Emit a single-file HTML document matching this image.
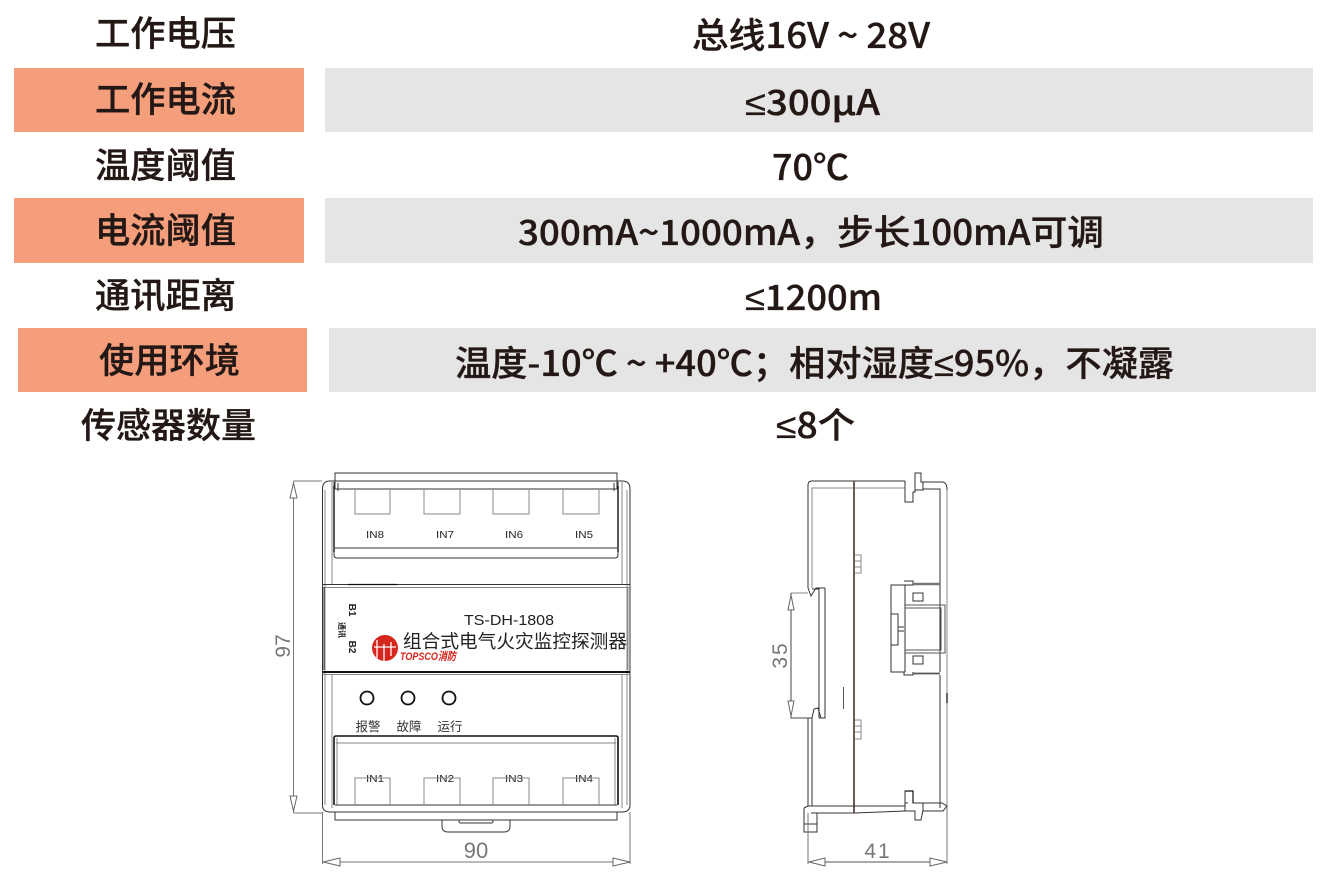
<!DOCTYPE html>
<html><head><meta charset="utf-8">
<style>
html,body{margin:0;padding:0;background:#fff;width:1333px;height:885px;overflow:hidden}
svg{display:block}
.t{font-family:"Noto Sans CJK SC","Liberation Sans",sans-serif;font-size:35px;font-weight:500;fill:#231815;stroke:#231815;stroke-width:.35px}
.le{font-family:"Liberation Sans",sans-serif}
.m{font-family:"Liberation Sans","Noto Sans CJK SC",sans-serif;fill:#333}
.d{font-family:"Liberation Sans",sans-serif;fill:#777}
.l{fill:none;stroke:#333;stroke-width:1}
.g{fill:none;stroke:#888;stroke-width:1}
.k{fill:none;stroke:#111;stroke-width:2}
.a{fill:#fff;stroke:#666;stroke-width:1}
</style></head><body>
<svg width="1333" height="885" viewBox="0 0 1333 885" xmlns="http://www.w3.org/2000/svg">
<rect width="1333" height="885" fill="#fff"/>
<rect x="14" y="68" width="290" height="64" fill="#f49e7b"/>
<rect x="325" y="68" width="988" height="64" fill="#e6e5e5"/>
<rect x="14" y="198" width="290" height="65" fill="#f49e7b"/>
<rect x="325" y="198" width="988" height="65" fill="#e6e5e5"/>
<rect x="18" y="328" width="289" height="64" fill="#f49e7b"/>
<rect x="329" y="328" width="987" height="64" fill="#e6e5e5"/>

<g class="t">
<text x="95" y="46" textLength="141" lengthAdjust="spacingAndGlyphs">工作电压</text>
<text x="95" y="112" textLength="141" lengthAdjust="spacingAndGlyphs">工作电流</text>
<text x="95" y="178" textLength="141" lengthAdjust="spacingAndGlyphs">温度阈值</text>
<text x="95" y="243" textLength="141" lengthAdjust="spacingAndGlyphs">电流阈值</text>
<text x="95" y="308" textLength="141" lengthAdjust="spacingAndGlyphs">通讯距离</text>
<text x="99" y="373" textLength="141" lengthAdjust="spacingAndGlyphs">使用环境</text>
<text x="81" y="438" textLength="175" lengthAdjust="spacingAndGlyphs">传感器数量</text>
<text x="692" y="48" textLength="238" lengthAdjust="spacingAndGlyphs">总线16V ~ 28V</text>
<text x="745" y="115" textLength="135" lengthAdjust="spacingAndGlyphs"><tspan class="le">≤</tspan>300μA</text>
<text x="772" y="180" textLength="77" lengthAdjust="spacingAndGlyphs">70℃</text>
<text x="518" y="245" textLength="586" lengthAdjust="spacingAndGlyphs">300mA~1000mA，步长100mA可调</text>
<text x="745" y="310" textLength="137" lengthAdjust="spacingAndGlyphs"><tspan class="le">≤</tspan>1200m</text>
<text x="455" y="376" textLength="719" lengthAdjust="spacingAndGlyphs">温度-10℃ ~ +40℃；相对湿度<tspan class="le">≤</tspan>95%，不凝露</text>
<text x="776" y="438" textLength="79" lengthAdjust="spacingAndGlyphs"><tspan class="le">≤</tspan>8个</text>
</g>

<!-- FRONT VIEW -->
<path class="l" d="M335 481V473H617V481"/>
<path class="l" d="M322.5 489Q322.5 481 330 481H622Q630 481 630 489V805Q630 812 622 812H330Q322.5 812 322.5 805Z"/>
<path class="g" d="M325 490V805M627 490V805"/>
<path class="g" d="M332 482V584M332 674V808M622 482V584M622 674V808"/>
<path class="l" d="M334 482V555Q334 558 337 558H615Q618 558 618 555V482"/>
<path class="k" d="M334 486V552M618 486V552" style="stroke-width:1.4"/>
<path class="l" d="M335 548H617M335 489H617"/>
<path class="l" d="M335 481V489M338 483V491M614 483V491M617 481V489"/>
<path class="g" d="M355 490V514H390V490M424 490V514H460V490M493 490V514H529V490M563 490V514H599V490"/>
<g class="m" font-size="10.5" text-anchor="middle" style="fill:#222">
<text x="375" y="538" textLength="18" lengthAdjust="spacingAndGlyphs">IN8</text><text x="445" y="538" textLength="18" lengthAdjust="spacingAndGlyphs">IN7</text><text x="514" y="538" textLength="18" lengthAdjust="spacingAndGlyphs">IN6</text><text x="584" y="538" textLength="18" lengthAdjust="spacingAndGlyphs">IN5</text>
<text x="375" y="782" textLength="18" lengthAdjust="spacingAndGlyphs">IN1</text><text x="445" y="782" textLength="18" lengthAdjust="spacingAndGlyphs">IN2</text><text x="514" y="782" textLength="18" lengthAdjust="spacingAndGlyphs">IN3</text><text x="584" y="782" textLength="18" lengthAdjust="spacingAndGlyphs">IN4</text>
</g>
<path class="l" d="M323 584.5H630"/>
<path class="k" d="M348 584.5H397" style="stroke-width:1.2"/>
<path class="g" d="M323 587.5H630"/>
<path class="k" d="M323 672H630" style="stroke-width:2"/>
<path class="g" d="M323 674.5H630"/>
<path class="l" d="M324 587V670"/>
<path class="g" d="M628 587V670"/>
<text class="m" x="464" y="625" font-size="15" textLength="90" lengthAdjust="spacingAndGlyphs" style="fill:#222">TS-DH-1808</text>
<text class="m" x="403" y="648" font-size="18.6" textLength="224" lengthAdjust="spacingAndGlyphs" style="fill:#222;font-family:'Noto Sans CJK SC',sans-serif">组合式电气火灾监控探测器</text>
<g fill="#d7261e">
<circle cx="385" cy="648" r="13"/>
<path d="M377 640V658M384 644V661M391 642V656M374 647H396" stroke="#fff" stroke-width="1.3" fill="none"/>
<text x="400" y="660" font-family="Liberation Sans" font-weight="bold" font-style="italic" font-size="11" textLength="56" lengthAdjust="spacingAndGlyphs">TOPSCO消防</text>
</g>
<g class="m" style="fill:#222" font-size="10" font-weight="bold" text-anchor="middle">
<text transform="translate(349,610) rotate(90)">B1</text>
<text transform="translate(349,647) rotate(90)">B2</text>
<text transform="translate(339,630) rotate(90)" font-size="8" style="font-family:'Noto Sans CJK SC',sans-serif">通讯</text>
</g>
<circle cx="367" cy="698" r="6.5" fill="none" stroke="#111" stroke-width="1.8"/>
<circle cx="408" cy="698" r="6.5" fill="none" stroke="#111" stroke-width="1.8"/>
<circle cx="449" cy="698" r="6.5" fill="none" stroke="#111" stroke-width="1.8"/>
<g font-size="12.5" text-anchor="middle" style="font-family:'Noto Sans CJK SC',sans-serif" fill="#333">
<text x="368" y="731">报警</text><text x="409" y="731">故障</text><text x="450" y="731">运行</text>
</g>
<path class="k" d="M334 805V738Q334 736 336 736H616Q618 736 618 738V805" style="stroke-width:1.6"/>
<path class="g" d="M336 743H616M337 738V805M615 738V805"/>
<path class="l" d="M335 805H617"/>
<path class="g" d="M355 805V778H390V805M424 805V778H460V805M493 805V778H529V805M563 805V778H599V805"/>
<path class="l" d="M335 812V820H617V812"/>
<path class="l" d="M442 820V826Q442 832 448 832H504Q510 832 510 826V820M459 820V821Q459 823 461 823H491Q493 823 493 821V820"/>
<!-- dims front -->
<path class="g" d="M293.5 481V813M293.5 481H322M293.5 813H322" style="stroke:#777"/>
<path class="a" d="M293.5 483L290 498H297ZM293.5 811L290 796H297Z"/>
<text class="d" transform="translate(290,646) rotate(-90)" font-size="21" text-anchor="middle">97</text>
<path class="g" d="M322.5 812V864M630 812V864M322.5 862H630" style="stroke:#777"/>
<path class="a" d="M323 862L340 858V866ZM630 862L613 858V866Z"/>
<text class="d" x="476" y="858" font-size="22" text-anchor="middle">90</text>

<!-- SIDE VIEW -->
<path class="l" d="M808 588V485Q808 481 812 481H905"/>
<path class="g" d="M812 588V488H905"/>
<path d="M854 481V813" stroke="#6b5a55" stroke-width="2" fill="none"/>
<path class="l" d="M905 481V502H913V492H915V473H921V482H923V490H915"/>
<path class="l" d="M923 482H942Q947 482 947 490V585M923 489H940V585"/>
<path class="g" d="M947 490V808"/>
<path class="l" d="M940 585V672M940 675V808"/>
<path class="l" d="M808 588L811 596L816 588H825M812 589L819 589M819 588V718M825 588V718H819"/>
<path class="l" d="M808 718H812L814 709L818 708L821 718"/>
<path class="g" d="M791 593H808"/>
<path class="l" d="M791 593V718H808" style="stroke:#444"/>
<path class="a" d="M791 595L788 610H794ZM791 716L788 701H794Z"/>
<text class="d" transform="translate(787,655) rotate(-90)" font-size="21" text-anchor="middle" letter-spacing="2">35</text>
<path class="l" d="M808 718V806M812 718V806"/>
<path class="l" d="M808 806H905M811 813H854L905 811M905 803H908"/>
<path class="l" d="M804 808V832H817V813M804 824H817M804 808L808 806"/>
<path class="l" d="M905 811V791H913V803H923V810L921 820H915V811H905" style="stroke-width:1"/>
<path class="k" d="M905 791H913V803" style="stroke-width:1.2"/>
<path class="l" d="M923 803H942L947 806L943 811H923"/>
<path d="M947 693V703" stroke="#333" stroke-width="1.5"/>
<path d="M843.5 687V709" stroke="#555" stroke-width="1"/>
<path class="g" d="M855 555H861V573H855M855 561H861M855 567H861M855 720H861V739H855M855 726H861M855 732H861"/>
<!-- connector -->
<path class="l" d="M905 585H891V672H905"/>
<path class="l" d="M904 581H913V585H905V672M904 672V675H913V672"/>
<path class="l" d="M905 605H945V653H905M905 608H941V650H905" style="stroke:#555"/>
<path class="l" d="M913 593H923V601H913ZM913 656H923V664H913ZM891 614H898V645H891M898 627H904M898 631H904"/>
<path d="M913 584H940" stroke="#777" stroke-width="2.4" fill="none"/>
<path d="M913 673.5H940" stroke="#555" stroke-width="1.8" fill="none"/>
<!-- dims side -->
<path class="g" d="M808 813V864M947 808V864" style="stroke:#777"/>
<path class="l" d="M808 862H947" style="stroke:#555"/>
<path class="a" d="M809 862L825 858V866ZM947 862L930 858V866Z"/>
<text class="d" x="878" y="858" font-size="21" text-anchor="middle" letter-spacing="2">41</text>
</svg>
</body></html>
